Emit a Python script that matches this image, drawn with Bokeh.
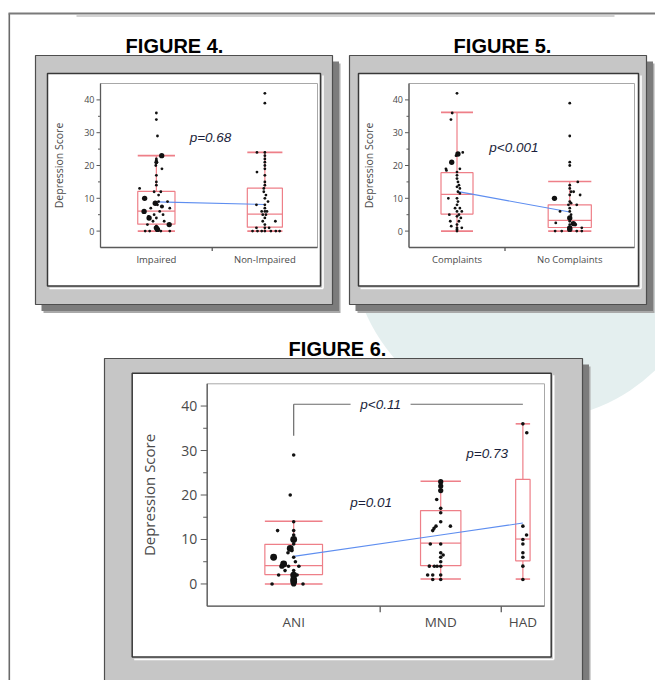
import numpy as np
from bokeh.plotting import figure
from bokeh.models import Range1d
from bokeh.embed import file_html
from bokeh.resources import INLINE
from bokeh.core.properties import value

# ======================= DATA =======================
y_ticks = [0, 10, 20, 30, 40]
y_minor_ticks = [5, 15, 25, 35]
y_limits = [-5, 45]
y_label = "Depression Score"

# ---- Figure 4 ----
fig4_title = "FIGURE 4."
fig4_groups = ["Impaired", "Non-Impaired"]
fig4_n = [52, 49]
fig4_q1 = [2.1, 1.2]
fig4_median = [6.1, 5.2]
fig4_q3 = [12.1, 13.1]
fig4_whisker_lo = [0, 0]
fig4_whisker_hi = [23.0, 24.0]
fig4_mean = [8.9, 8.1]
fig4_pvalue = "p=0.68"

fig4_impaired_values = [36, 34, 29, 23, 22, 21.5, 21, 20, 19, 17, 15, 14, 13, 12, 12, 11, 10, 9, 9, 8.5,
                        8, 7.5, 7, 7, 6, 6, 5, 5, 4.5, 4, 4, 3, 3, 2, 2, 1.5, 1, 0.5, 0, 0, 0, 0]
fig4_impaired_jitter = [0, 0, 0.01, 0.048, 0, 0, 0, -0.005, 0.05, 0, 0, 0, -0.15, -0.02, 0.04, 0.02, -0.105, 0.1, 0.02, -0.01,
                        0.01, 0.05, 0.12, -0.05, -0.11, 0.03, -0.02, 0.06, -0.07, -0.065, 0.0, -0.03, 0.07, 0.115, -0.08, 0.0, 0.0, 0.01, -0.06, 0.04, 0.12, -0.1]
fig4_impaired_count = [1, 1, 1, 3, 1, 1, 2, 1, 1, 1, 1, 1, 1, 1, 1, 1, 3, 1, 1, 3,
                       1, 2, 1, 1, 3, 1, 1, 1, 1, 3, 1, 1, 1, 3, 1, 1, 3, 3, 1, 1, 1, 1]

fig4_nonimpaired_values = [42, 39, 24, 24, 23, 22, 21, 20, 19, 18, 17, 15, 14, 13, 12, 11, 10, 9, 8, 8,
                           7, 6, 6, 6, 5, 5, 4, 3, 3, 2, 1, 1, 1, 0, 0, 0, 0, 0, 0, 0]
fig4_nonimpaired_jitter = [0, 0, -0.075, 0, 0, 0, 0, 0, 0, -0.075, 0, 0, 0, -0.01, -0.01, 0.01, 0, 0.03, -0.08, 0,
                           0, -0.03, 0, 0.02, -0.02, 0.01, 0, 0.1, -0.02, 0, -0.08, 0, 0.04, -0.117, -0.07, -0.03, 0, 0.057, 0.104, 0.14]
fig4_nonimpaired_count = [1] * 40

# ---- Figure 5 ----
fig5_title = "FIGURE 5."
fig5_groups = ["Complaints", "No Complaints"]
fig5_n = [43, 58]
fig5_q1 = [5.2, 1.1]
fig5_median = [11.2, 3.3]
fig5_q3 = [17.8, 8.0]
fig5_whisker_lo = [0, 0]
fig5_whisker_hi = [36.2, 15.1]
fig5_mean = [12.1, 5.8]
fig5_pvalue = "p<0.001"

fig5_complaints_values = [42, 36, 34, 24, 23.5, 23, 21, 19, 19, 18.5, 18, 17, 16, 15, 14, 13.5, 13, 12, 11.5, 10,
                          10, 9, 8, 7, 7, 6, 6, 5, 5, 4.5, 4, 3, 3, 2, 1.5, 1, 1, 0.5, 0]
fig5_complaints_jitter = [0, -0.05, -0.063, 0.06, 0.01, -0.01, -0.055, -0.115, 0.03, -0.11, 0, 0, 0, 0.01, 0.02, 0, 0.03, 0.01, 0.03, -0.09,
                          0, 0.01, 0, -0.02, 0.03, 0.05, 0, -0.08, 0.02, 0, 0.04, -0.07, 0.02, 0, -0.06, 0, 0.05, 0, 0]
fig5_complaints_count = [1, 1, 1, 1, 3, 1, 3, 1, 1, 1, 1, 1, 1, 1, 1, 1, 1, 1, 1, 1,
                         1, 1, 1, 1, 1, 1, 1, 1, 1, 1, 1, 1, 1, 1, 1, 1, 1, 1, 1]

fig5_nocomplaints_values = [39, 29, 21, 20, 15, 14, 13, 12, 12, 11, 11, 10, 9, 8.5, 8, 8, 7, 6, 6, 5,
                            4, 3, 2.5, 2.3, 2, 2, 1, 1, 0.5, 0, 0, 0, 0]
fig5_nocomplaints_jitter = [0, 0, 0, 0, 0.062, 0, 0, 0.01, 0.03, 0.08, 0, -0.118, 0, 0.01, 0.054, -0.01, 0, -0.075, 0, 0.01,
                            0, 0, -0.108, 0.028, 0.041, 0, 0.093, 0, 0, -0.113, -0.062, 0.054, 0.093]
fig5_nocomplaints_count = [1, 1, 1, 1, 1, 1, 1, 1, 1, 1, 1, 3, 1, 1, 1, 1, 1, 1, 1, 1,
                           3, 1, 1, 3, 2, 1, 1, 3, 3, 1, 1, 1, 1]

# ---- Figure 6 ----
fig6_title = "FIGURE 6."
fig6_groups = ["ANI", "MND", "HAD"]
fig6_n = [40, 28, 10]
fig6_q1 = [2.1, 4.1, 5.2]
fig6_median = [4.1, 9.2, 10.1]
fig6_q3 = [8.9, 16.5, 23.5]
fig6_whisker_lo = [0, 1.1, 1.1]
fig6_whisker_hi = [14.1, 23.1, 36.0]
fig6_mean = [6.2, 11.0, 13.7]
fig6_pvalues = ["p=0.01", "p=0.73", "p<0.11"]
fig6_bracket_groups = [0, 2]
fig6_bracket_low = 33.3
fig6_bracket_high = 40.4

fig6_ani_values = [29, 20, 14, 12, 12, 11, 10, 9, 8, 7.5, 7, 6, 6, 5, 4.5, 4, 4, 4, 3, 3,
                   2, 2, 2, 1, 0.5, 0, 0, 0]
fig6_ani_jitter = [0, -0.02, 0, -0.093, 0, 0, 0, 0, -0.02, -0.01, -0.033, -0.116, 0, 0.01, -0.058, -0.068, -0.03, 0.03, -0.05, 0,
                   -0.087, 0, 0.02, 0, 0, 0, -0.125, 0.054]
fig6_ani_count = [1, 1, 1, 1, 1, 1, 3, 1, 3, 1, 1, 3, 1, 1, 3, 2, 1, 1, 1, 1,
                  1, 3, 1, 3, 3, 2, 1, 1]

fig6_mnd_values = [23, 22.5, 22, 21, 19, 17, 16, 14, 13, 13, 12.5, 12, 9, 9, 7, 6.5, 6, 5, 4, 4,
                   4, 4, 2, 2, 2, 1, 1]
fig6_mnd_jitter = [0, 0, 0, 0, -0.033, 0, 0, 0, -0.039, 0.08, -0.055, -0.066, -0.086, 0, 0, 0.02, 0, 0, -0.094, -0.053,
                   -0.03, 0, -0.108, -0.066, 0, -0.066, 0]
fig6_mnd_count = [2, 1, 2, 2] + [1] * 23

fig6_had_values = [36, 34, 13, 11, 10, 9, 7, 6, 4, 1]
fig6_had_jitter = [0, 0.09, 0, 0.085, 0, 0, 0, 0, 0, 0]
fig6_had_count = [1] * 10

# ======================= CANVAS =======================
# canvas coordinates = screenshot pixel coordinates
X0, Y0, W, H = 0, 0, 655, 680
p = figure(width=W, height=H, x_range=Range1d(X0, X0 + W), y_range=Range1d(Y0 + H, Y0),
           output_backend="svg", toolbar_location=None, min_border=0,
           x_axis_location=None, y_axis_location=None)
p.grid.visible = False
p.outline_line_color = None
p.background_fill_color = "white"
p.border_fill_color = "white"

TEAL = "#e4efef"
BOX_RED = "#ee7f88"
MEAN_BLUE = "#5e8ef0"
DOT = "#111111"
AX = "#5a5a5a"
LAB = "#4a4a4a"
PCOL = "#1b1f3b"
FONT = "Open Sans"
TFONT = "Liberation Sans"

# page decorations
p.circle(x=[530], y=[240], radius=180, fill_color=TEAL, line_color=None)
p.segment(x0=[8.8], y0=[13], x1=[8.8], y1=[700], line_color="#6a6a6a", line_width=1.6)
p.segment(x0=[8], y0=[13], x1=[680], y1=[13], line_color="#7a7a7a", line_width=2)
p.segment(x0=[76], y0=[15.5], x1=[614], y1=[15.5], line_color="#c4c4c4", line_width=1.5)


def frame(gray, white):
    l, r, t, b = gray
    p.quad(left=[l + 8], right=[r + 8], top=[t + 8], bottom=[b + 8.5], fill_color="#a9a9a9", line_color=None)
    p.quad(left=[l + 6], right=[r + 6.5], top=[t + 6], bottom=[b + 6.5], fill_color="#7c7c7c", line_color=None)
    p.quad(left=[l], right=[r], top=[t], bottom=[b], fill_color="#c6c6c6", line_color="#4e4e4e", line_width=1.2)
    l, r, t, b = white
    p.segment(x0=[l + 2, r + 2.5], y0=[b + 2.5, t + 2], x1=[r + 2.5, r + 2.5], y1=[b + 2.5, b + 2.5],
              line_color="white", line_width=1.6)
    p.quad(left=[l], right=[r], top=[t], bottom=[b], fill_color="white", line_color="#383838", line_width=1.5)


def title(txt, x, y):
    p.text(x=[x], y=[y], text=[txt], text_font=value(TFONT), text_font_style="bold",
           text_font_size="20px", text_align="center", text_baseline="alphabetic", text_color="#000000")


extra_x, extra_y = {}, {}


def panel(key, box, groups, n, q1, med, q3, lo, hi, mean, point_sets, st):
    L, R, T, B = box
    vmin, vmax = y_limits
    sx = (R - L)
    sy = (B - T) / (vmax - vmin)
    extra_x[key] = Range1d((X0 - L) / sx, (X0 + W - L) / sx)
    extra_y[key] = Range1d(vmax - (Y0 + H - T) / sy, vmax - (Y0 - T) / sy)
    kw = dict(x_range_name=key, y_range_name=key)
    n = np.array(n, dtype=float)
    edges = np.concatenate([[0.0], np.cumsum(n)]) / n.sum()
    ctr = (edges[:-1] + edges[1:]) / 2
    wid = n / n.sum()
    half = wid / 6
    k = len(groups)

    # plot area + axes
    p.quad(left=[0], right=[1], bottom=[vmin], top=[vmax], fill_color="white", line_color="#a8a8a8",
           line_width=1, **kw)
    p.segment(x0=[0, 0], y0=[vmin, vmin], x1=[0, 1], y1=[vmax, vmin], line_color=AX, line_width=1.3, **kw)
    tl, ml = st["tick_len"] / sx, st["minor_len"] / sx
    p.segment(x0=[0] * len(y_ticks), y0=y_ticks, x1=[-tl] * len(y_ticks), y1=y_ticks,
              line_color=AX, line_width=1, **kw)
    p.segment(x0=[0] * len(y_minor_ticks), y0=y_minor_ticks, x1=[-ml] * len(y_minor_ticks), y1=y_minor_ticks,
              line_color=AX, line_width=1, **kw)
    p.text(x=[-st["tick_lab_off"] / sx] * len(y_ticks), y=y_ticks, text=[str(t) for t in y_ticks],
           text_align="right", text_baseline="middle", text_font=value(FONT),
           text_font_size=f"{st['tick_fs']}px", text_color=LAB, **kw)
    bnd = list(edges[1:-1])
    bl = st["bound_tick"] / sy
    p.segment(x0=bnd, y0=[vmin] * len(bnd), x1=bnd, y1=[vmin - bl] * len(bnd), line_color=AX,
              line_width=1.3, **kw)
    p.text(x=list(ctr), y=[vmin - st["cat_off"] / sy] * k, text=groups, text_align="center",
           text_baseline="middle", text_font=value(FONT), text_font_size=f"{st['cat_fs']}px",
           text_color=LAB, **kw)
    p.text(x=[-st["ytitle_off"] / sx], y=[(vmin + vmax) / 2], text=[y_label], angle=np.pi / 2,
           text_align="center", text_baseline="middle", text_font=value(FONT),
           text_font_size=f"{st['ytitle_fs']}px", text_color=LAB, **kw)

    # box plots
    p.quad(left=list(ctr - half), right=list(ctr + half), bottom=q1, top=q3, fill_color=None,
           line_color=BOX_RED, line_width=1.2, **kw)
    p.segment(x0=list(ctr - half), x1=list(ctr + half), y0=med, y1=med, line_color=BOX_RED, line_width=1.2, **kw)
    p.segment(x0=list(ctr) * 2, x1=list(ctr) * 2, y0=list(q3) + list(q1), y1=list(hi) + list(lo),
              line_color=BOX_RED, line_width=1.2, **kw)
    p.segment(x0=list(ctr - half) * 2, x1=list(ctr + half) * 2, y0=list(hi) + list(lo), y1=list(hi) + list(lo),
              line_color=BOX_RED, line_width=1.6, **kw)
    # means
    p.line(x=list(ctr), y=mean, line_color=MEAN_BLUE, line_width=1.1, **kw)
    # points
    for gi, (vals, jit, cnt) in enumerate(point_sets):
        xs = [ctr[gi] + j * wid[gi] for j in jit]
        sz = [st["dot"] * (1 + 0.45 * (c - 1)) for c in cnt]
        p.scatter(x=xs, y=vals, size=sz, marker="circle", fill_color=DOT, line_color=None, **kw)
    return ctr, sx, sy


def ptext(key, txts, fx, fy, fs):
    p.text(x=fx, y=fy, text=txts, text_align="center", text_baseline="middle", text_font=value(TFONT),
           text_font_style="italic", text_font_size=f"{fs}px", text_color=PCOL,
           x_range_name=key, y_range_name=key)


small = dict(tick_fs=9, tick_len=4, minor_len=2.5, tick_lab_off=6, cat_fs=9.5, cat_off=12,
             ytitle_fs=10.5, ytitle_off=42, bound_tick=3.5, dot=2.8)
small5 = dict(small, ytitle_off=40)
big = dict(tick_fs=14, tick_len=6.5, minor_len=4, tick_lab_off=10, cat_fs=13.5, cat_off=16,
           ytitle_fs=15, ytitle_off=58.4, bound_tick=6, dot=3.6)

# ---- figure 4 ----
title(fig4_title, 174, 45.5)
frame((35, 332, 55, 304), (47, 320, 73, 285.5))
panel("f4", (100, 317, 83, 247), fig4_groups, fig4_n, fig4_q1, fig4_median, fig4_q3,
      fig4_whisker_lo, fig4_whisker_hi, fig4_mean,
      [(fig4_impaired_values, fig4_impaired_jitter, fig4_impaired_count),
       (fig4_nonimpaired_values, fig4_nonimpaired_jitter, fig4_nonimpaired_count)], small)
ptext("f4", [fig4_pvalue], [0.507], [28.6], 13.5)

# ---- figure 5 ----
title(fig5_title, 502, 45.5)
frame((349, 646, 55, 304), (358, 638, 73, 285.5))
panel("f5", (408.5, 634, 83, 247), fig5_groups, fig5_n, fig5_q1, fig5_median, fig5_q3,
      fig5_whisker_lo, fig5_whisker_hi, fig5_mean,
      [(fig5_complaints_values, fig5_complaints_jitter, fig5_complaints_count),
       (fig5_nocomplaints_values, fig5_nocomplaints_jitter, fig5_nocomplaints_count)], small5)
ptext("f5", [fig5_pvalue], [0.465], [25.4], 13.5)

# ---- figure 6 ----
title(fig6_title, 337, 348)
frame((104, 582, 358, 684), (131.7, 550.7, 372.7, 656.5))
ctr6, sx6, sy6 = panel("f6", (206.7, 544, 383.3, 605.7), fig6_groups, fig6_n, fig6_q1, fig6_median, fig6_q3,
                       fig6_whisker_lo, fig6_whisker_hi, fig6_mean,
                       [(fig6_ani_values, fig6_ani_jitter, fig6_ani_count),
                        (fig6_mnd_values, fig6_mnd_jitter, fig6_mnd_count),
                        (fig6_had_values, fig6_had_jitter, fig6_had_count)], big)
b0, b1 = ctr6[fig6_bracket_groups[0]], ctr6[fig6_bracket_groups[1]]
txt_c = 0.514
gap = 30 / sx6
p.segment(x0=[b0, b0, txt_c + gap], y0=[fig6_bracket_low, fig6_bracket_high, fig6_bracket_high],
          x1=[b0, txt_c - gap, b1], y1=[fig6_bracket_high, fig6_bracket_high, fig6_bracket_high],
          line_color="#6a6a6a", line_width=1.2, x_range_name="f6", y_range_name="f6")
ptext("f6", fig6_pvalues, [0.486, 0.830, txt_c], [18.3, 29.4, fig6_bracket_high], 13.5)

p.extra_x_ranges = extra_x
p.extra_y_ranges = extra_y

open("out.html", "w").write(file_html(p, INLINE))
